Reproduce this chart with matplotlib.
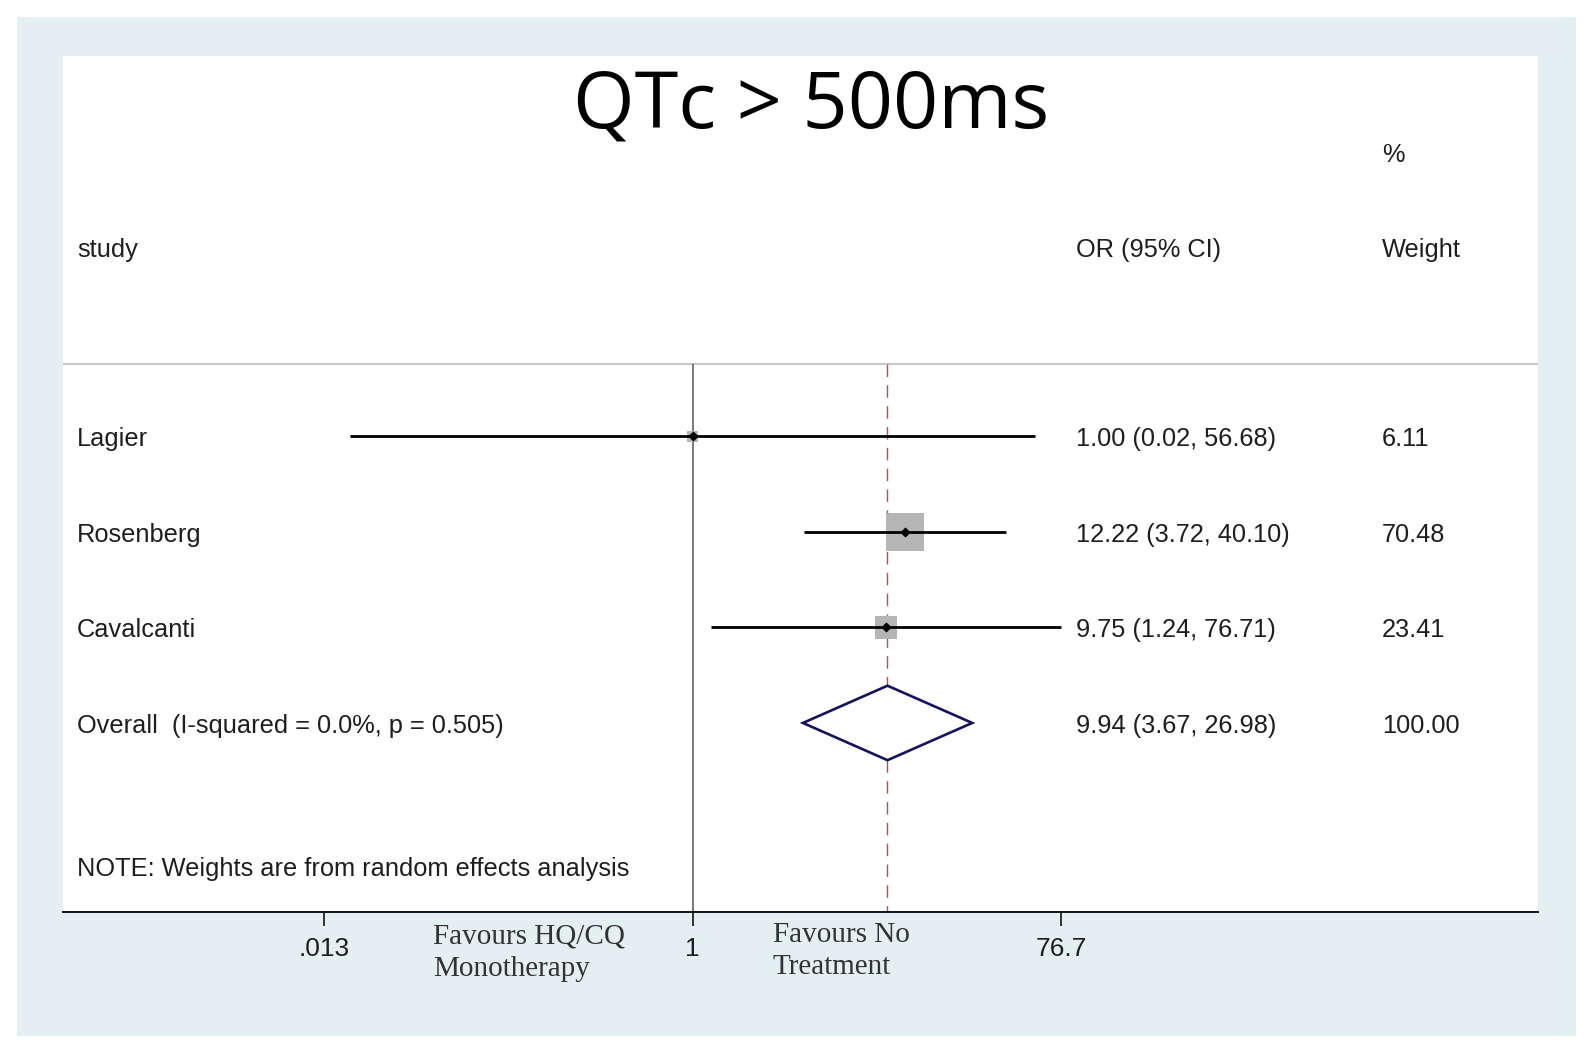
import numpy as np
import matplotlib
matplotlib.use("Agg")
import matplotlib.pyplot as plt
from matplotlib.patches import Rectangle, Polygon

# ---- data ----
studies = ["Lagier", "Rosenberg", "Cavalcanti"]
or_est = [1.00, 12.22, 9.75]
ci_low = [0.0177, 3.72, 1.24]
ci_high = [56.68, 40.10, 76.71]
weights = [6.11, 70.48, 23.41]

overall_est = 9.94
overall_low = 3.67
overall_high = 26.98
i_squared = 0.0
p_het = 0.505

tick_vals = [0.013, 1, 76.7]
tick_labels = [".013", "1", "76.7"]

TEXT = "#1e1e1e"
SANS = ["Liberation Sans", "DejaVu Sans"]
SERIF = ["Liberation Serif", "DejaVu Serif"]

fig = plt.figure(figsize=(15.92, 10.52), dpi=100)
fig.patch.set_facecolor("white")

# light blue graph region behind the white plot region
fig.patches.append(Rectangle((17 / 1592, 1 - 1036 / 1052), 1559 / 1592, 1019 / 1052,
                             transform=fig.transFigure, facecolor="#e4eff2",
                             edgecolor="none", zorder=-10))

ax = fig.add_axes([63 / 1592, 1 - 912 / 1052, 1475 / 1592, 856 / 1052])
ax.set_zorder(1)
ax.set_facecolor("white")
ax.set_xscale("log")
ax.set_xlim(6.0e-4, 2.12e4)
ax.set_ylim(5.98, -2.985)

for s in ["top", "left", "right"]:
    ax.spines[s].set_visible(False)
ax.spines["bottom"].set_linewidth(1.4)
ax.spines["bottom"].set_color("#111111")
ax.set_yticks([])
ax.set_xticks(tick_vals)
ax.set_xticklabels(tick_labels)
ax.minorticks_off()
ax.tick_params(axis="x", direction="out", length=10, width=1.1, pad=8,
               labelsize=19, labelcolor=TEXT)
for lab in ax.get_xticklabels():
    lab.set_family(SANS)

rows = np.arange(1, len(studies) + 1)
overall_row = len(studies) + 1
sep_y = 0.24
dy = 0.03  # small nudge so the text sits on the row like in Stata

# separator under the header
ax.axhline(sep_y, color="#c8c8c8", lw=1.5, zorder=1)

# line of no effect and overall estimate line
ax.vlines(1, sep_y, 5.98, color="#555555", lw=1.1, zorder=2)
ax.vlines(overall_est, sep_y, 5.98, color="#9a5a5a", lw=1.0,
          linestyles=(0, (9, 6)), zorder=2)

# study estimates
ax.scatter(or_est, rows, s=[11.16 * w for w in weights], marker="s",
           color="#b5b5b5", edgecolors="none", zorder=3)
ax.hlines(rows, ci_low, ci_high, color="black", lw=2.0, zorder=4)
ax.scatter(or_est, rows, s=18, marker="D", color="black", zorder=5)

# pooled diamond
h = 0.39
diamond = Polygon([(overall_low, overall_row), (overall_est, overall_row - h),
                   (overall_high, overall_row), (overall_est, overall_row + h)],
                  closed=True, facecolor="white", edgecolor="#14145a", lw=1.9, zorder=4)
ax.add_patch(diamond)

# text columns
tx = ax.get_yaxis_transform()
col_study, col_or, col_w = 0.0095, 0.687, 0.894
fs = 18.3


def put(x, y, s):
    ax.text(x, y + dy, s, transform=tx, fontsize=fs, family=SANS,
            color=TEXT, va="center", ha="left")


put(col_study, -0.986, "study")
put(col_or, -0.986, "OR (95% CI)")
put(col_w, -0.986, "Weight")
put(col_w, -1.98, "%")

for r, name, e, lo, hi, w in zip(rows, studies, or_est, ci_low, ci_high, weights):
    put(col_study, r, name)
    put(col_or, r, f"{e:.2f} ({lo:.2f}, {hi:.2f})")
    put(col_w, r, f"{w:.2f}")

put(col_study, overall_row, f"Overall  (I-squared = {i_squared:.1f}%, p = {p_het:.3f})")
put(col_or, overall_row, f"{overall_est:.2f} ({overall_low:.2f}, {overall_high:.2f})")
put(col_w, overall_row, f"{sum(weights):.2f}")

put(col_study, 5.497, "NOTE: Weights are from random effects analysis")

# favours labels under the axis
fx = ax.get_xaxis_transform()
ax.text(0.047, -0.014, "Favours HQ/CQ\nMonotherapy", transform=fx, fontsize=21,
        family=SERIF, color="#333333", va="top", ha="left", linespacing=1.3,
        clip_on=False)
ax.text(2.57, -0.012, "Favours No\nTreatment", transform=fx, fontsize=21,
        family=SERIF, color="#333333", va="top", ha="left", linespacing=1.3,
        clip_on=False)

# title
fig.text(811 / 1592, 1 - 107 / 1052, "QTc > 500ms", fontsize=57,
         family=["Open Sans", "DejaVu Sans"], color="black", ha="center", va="center",
         zorder=5)

fig.savefig("out.png", dpi=100)
